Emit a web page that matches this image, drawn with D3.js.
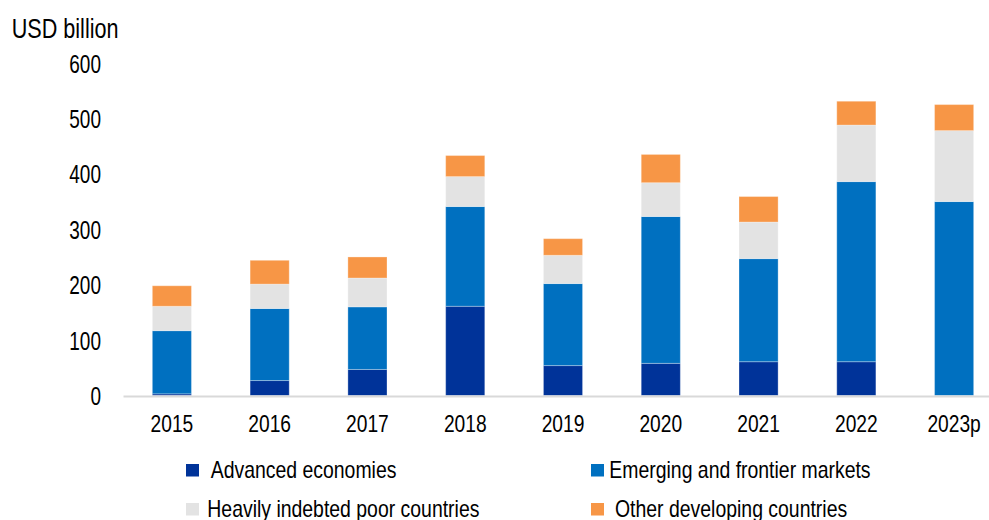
<!DOCTYPE html>
<html>
<head>
<meta charset="utf-8">
<script src="https://cdn.jsdelivr.net/npm/d3@7"></script>
<style>
  html, body { margin: 0; padding: 0; background: #fff; }
  svg { display: block; font-family: "Liberation Sans", Arial, sans-serif; }
</style>
</head>
<body>
<svg id="chart" width="989" height="520"></svg>
<script>
// ---- Data ----
const years = ["2015", "2016", "2017", "2018", "2019", "2020", "2021", "2022", "2023p"];
const advanced = [3, 27, 47, 161, 54, 58, 61, 61, 0];
const emerging = [114, 130, 113, 180, 148, 265, 186, 325, 350];
const hipc = [44, 44, 52, 54, 51, 61, 66, 102, 128];
const otherDev = [37, 43, 38, 38, 30, 51, 46, 43, 47];
const yTicks = [0, 100, 200, 300, 400, 500, 600];
const seriesKeys = ["advanced", "emerging", "hipc", "other"];
const seriesLabels = ["Advanced economies", "Emerging and frontier markets", "Heavily indebted poor countries", "Other developing countries"];
const yUnit = "USD billion";

// ---- Styles / layout ----
const colors = { advanced: "#003399", emerging: "#0070C0", hipc: "#E3E3E3", other: "#F79646" };
const svg = d3.select("#chart");
const FONT = '"Liberation Sans", Arial, sans-serif';

const x = d3.scaleBand().domain(years).range([123, 1003]).paddingInner(0.6).paddingOuter(0.3);
const y = d3.scaleLinear().domain([0, 600]).range([395.5, 63]);

const table = years.map((yr, i) => ({
  year: yr, advanced: advanced[i], emerging: emerging[i], hipc: hipc[i], other: otherDev[i]
}));
const stacked = d3.stack().keys(seriesKeys)(table);

// Bars
svg.append("g").selectAll("g")
  .data(stacked).join("g")
  .attr("fill", d => colors[d.key])
  .selectAll("rect")
  .data(d => d).join("rect")
  .attr("x", d => x(d.data.year))
  .attr("width", x.bandwidth())
  .attr("y", d => y(d[1]))
  .attr("height", d => Math.max(0, y(d[0]) - y(d[1])))
  .attr("stroke", "#ffffff")
  .attr("stroke-opacity", 0.3)
  .attr("stroke-width", 1);

// X axis
const xAxis = svg.append("g")
  .attr("transform", "translate(0,396)")
  .call(d3.axisBottom(x).tickSize(0).tickSizeOuter(0));
xAxis.select(".domain").attr("stroke", "#D9D9D9").attr("stroke-width", 2);
xAxis.selectAll("text")
  .attr("y", 0).attr("dy", 0)
  .attr("transform", "translate(0,36.3) scale(0.8,1)")
  .attr("font-family", FONT)
  .attr("font-size", 24)
  .attr("fill", "#000")
  .attr("text-anchor", "middle");

// Y axis
const yAxis = svg.append("g")
  .attr("transform", "translate(123,0)")
  .call(d3.axisLeft(y).tickValues(yTicks).tickSize(0));
yAxis.select(".domain").remove();
yAxis.selectAll("text")
  .attr("x", 0).attr("dy", "0.36em")
  .attr("transform", "translate(-22,0) scale(0.76,1)")
  .attr("font-family", FONT)
  .attr("font-size", 25)
  .attr("fill", "#000")
  .attr("text-anchor", "end");

// Unit title
svg.append("text")
  .attr("transform", "translate(11.7,38.3) scale(0.8,1)")
  .attr("font-family", FONT)
  .attr("font-size", 27)
  .attr("fill", "#000")
  .text(yUnit);

// Legend
const legendLayout = [
  { sx: 186, sy: 464, tx: 210.7, ty: 478.3 },
  { sx: 591, sy: 464, tx: 609.3, ty: 478.3 },
  { sx: 186, sy: 503, tx: 207.3, ty: 517.3 },
  { sx: 591, sy: 503, tx: 615, ty: 517.3 }
];
const legend = svg.append("g");
seriesKeys.forEach((k, i) => {
  const L = legendLayout[i];
  legend.append("rect")
    .attr("x", L.sx).attr("y", L.sy)
    .attr("width", 13).attr("height", 12.5)
    .attr("fill", colors[k]);
  legend.append("text")
    .attr("transform", `translate(${L.tx},${L.ty}) scale(0.845,1)`)
    .attr("font-family", FONT)
    .attr("font-size", 23)
    .attr("fill", "#000")
    .text(seriesLabels[i]);
});
</script>
</body>
</html>
